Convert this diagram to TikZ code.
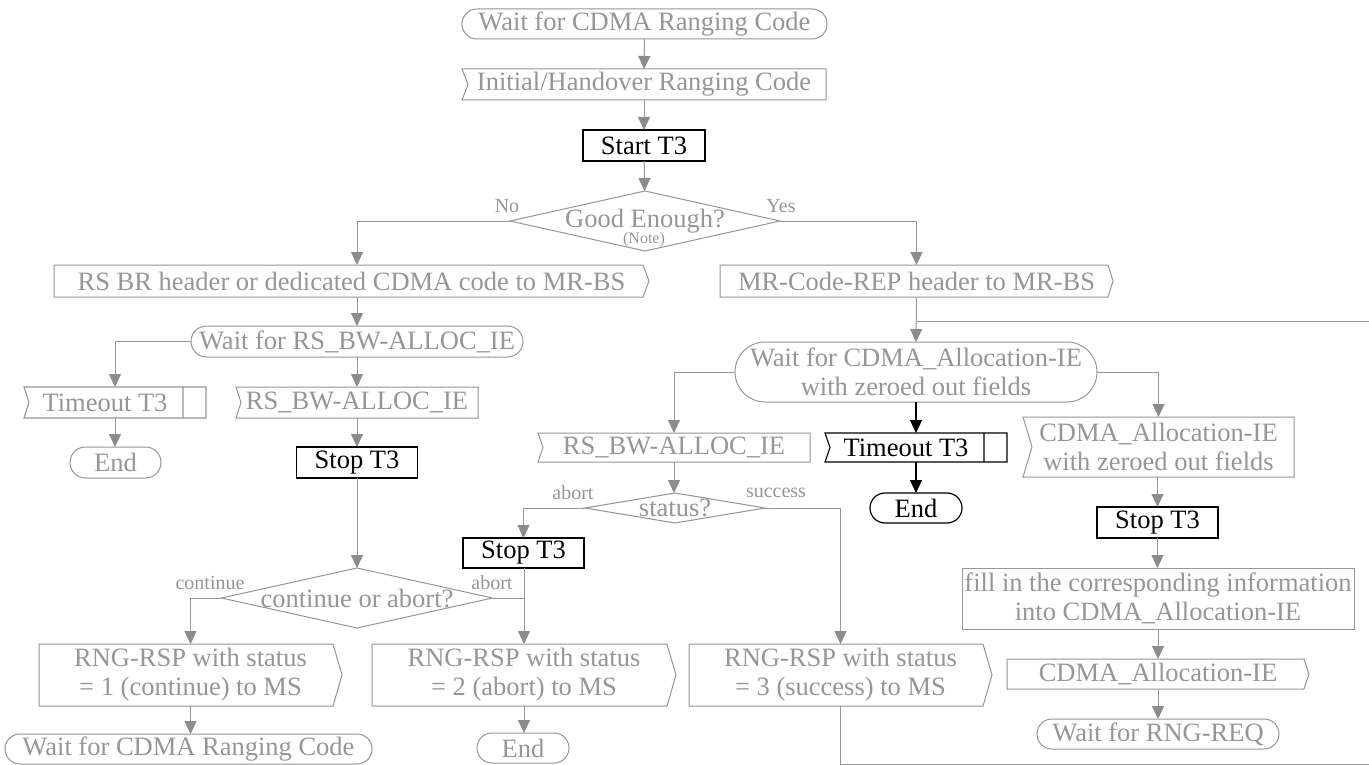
\documentclass[tikz,border=0pt]{standalone}
\usepackage{fontspec}
\setmainfont{Liberation Serif}
\usetikzlibrary{arrows.meta}
\definecolor{lc}{RGB}{150,150,150}
\definecolor{tc}{RGB}{150,150,150}
\definecolor{ac}{RGB}{140,140,140}
\newcommand{\mainf}{\fontsize{26.5}{29}\selectfont}
\newcommand{\labf}{\fontsize{20}{22}\selectfont}
\tikzset{
  sz/.style 2 args={minimum width=#1, minimum height=#2},
  base/.style={inner sep=0pt, outer sep=0pt, font=\mainf, text=tc, align=center},
  term/.style={base, draw=lc, line width=1pt, rounded corners=#1},
  term/.default=15pt,
  blkterm/.style={base, draw=black, text=black, line width=1.2pt, rounded corners=#1},
  blkterm/.default=15pt,
  proc/.style={base, draw=lc, line width=1pt},
  blk/.style={base, draw=black, text=black, line width=1.3pt},
  inbox/.style={base, append after command={\pgfextra{\draw[lc, line width=1pt]
     (\tikzlastnode.north west) -- (\tikzlastnode.north east) -- (\tikzlastnode.south east)
     -- (\tikzlastnode.south west) -- ([xshift=#1]\tikzlastnode.west) -- cycle;}}},
  inbox/.default=5pt,
  outbox/.style={base, append after command={\pgfextra{\draw[lc, line width=1pt]
     (\tikzlastnode.north west) -- ([xshift=-#1]\tikzlastnode.north east) -- (\tikzlastnode.east)
     -- ([xshift=-#1]\tikzlastnode.south east) -- (\tikzlastnode.south west) -- cycle;}}},
  outbox/.default=5pt,
  timer/.style={base, append after command={\pgfextra{\draw[#1, line width=1.1pt]
     (\tikzlastnode.north west) -- (\tikzlastnode.north east) -- (\tikzlastnode.south east)
     -- (\tikzlastnode.south west) -- ([xshift=5pt]\tikzlastnode.west) -- cycle
     ([xshift=-23pt]\tikzlastnode.north east) -- ([xshift=-23pt]\tikzlastnode.south east);}}},
  dec/.style={base, append after command={\pgfextra{\draw[lc, line width=1pt]
     (\tikzlastnode.north) -- (\tikzlastnode.east) -- (\tikzlastnode.south)
     -- (\tikzlastnode.west) -- cycle;}}},
  lab/.style={inner sep=0pt, font=\labf, text=tc},
  ln/.style={draw=lc, line width=1pt},
  arr/.style={draw=lc, line width=1pt, -{Triangle[length=13pt, width=12pt, color=ac]}},
  barr/.style={draw=black, line width=1.1pt, -{Triangle[length=13pt, width=12pt, color=black]}}
}
\begin{document}
\begin{tikzpicture}[x=1pt, y=-1pt]
\fill[white] (0,0) rectangle (1369,765);
\useasboundingbox (0,0) rectangle (1369,765);

% top column
\node[term=15pt, sz={365}{30}] (n1) at (644.5,24) {Wait for CDMA Ranging Code};
\node[inbox=6pt, sz={364}{31}] (n2) at (644,84.5) {Initial/Handover Ranging Code};
\node[blk, sz={122}{31}] (n3) at (644,145.5) {Start T3};
\node[dec, sz={270}{60}] (d1) at (645,221) {\raisebox{3pt}{Good Enough?}};
\node[inner sep=0pt, font=\fontsize{16}{16}\selectfont, text=tc] (d1n) at (644,240) {(Note)};
\node[lab] (l1) at (507,206) {No};
\node[lab] (l2) at (781,206) {Yes};

% left column
\node[outbox=6pt, sz={595}{32}] (n4) at (351.5,281) {RS BR header or dedicated CDMA code to MR-BS};
\node[term=15.5pt, sz={332}{31}] (n5) at (357,341.5) {Wait for RS\_BW-ALLOC\_IE};
\node[timer=lc, sz={182}{31}] (n6) at (115,402.5) {Timeout T3\hspace*{20pt}};
\node[term=15.5pt, sz={91}{31}] (n7) at (115.5,462.5) {End};
\node[inbox, sz={242}{31}] (n8) at (357,402.5) {RS\_BW-ALLOC\_IE};
\node[blk, sz={121}{31}] (n9) at (357,462.5) {Stop T3};
\node[dec, sz={271}{60}] (d2) at (357,598) {continue or abort?};
\node[lab] (l3) at (210,583) {continue};
\node[lab] (l4) at (492,583) {abort};
\node[outbox=9pt, sz={303}{62}] (n10) at (190.5,675) {RNG-RSP with status\\= 1 (continue) to MS};
\node[term=15pt, sz={367}{30}] (n11) at (188.5,749) {Wait for CDMA Ranging Code};
\node[outbox=9pt, sz={304}{62}] (n12) at (524,675) {RNG-RSP with status\\= 2 (abort) to MS};
\node[term=15pt, sz={92}{30}] (n13) at (523,748) {End};

% centre column
\node[outbox=5pt, sz={393}{32}] (n14) at (916.5,281) {MR-Code-REP header to MR-BS};
\node[term=30pt, sz={362}{60}] (n15) at (916,372) {Wait for CDMA\_Allocation-IE\\with zeroed out fields};
\node[inbox, sz={272}{29}] (n16) at (674,447.5) {RS\_BW-ALLOC\_IE};
\node[dec, sz={180}{30}] (d3) at (675,508) {status?};
\node[lab] (l5) at (573,493) {abort};
\node[lab] (l6) at (776,493) {success};
\node[blk, sz={121}{30}] (n17) at (523.5,553) {Stop T3};
\node[timer=black, text=black, sz={182}{29}] (n18) at (916,447.5) {Timeout T3\hspace*{20pt}};
\node[blkterm=15pt, sz={92}{30}] (n19) at (916,508) {End};
\node[outbox=9pt, sz={303}{62}] (n20) at (840.5,675) {RNG-RSP with status\\= 3 (success) to MS};

% right column
\node[inbox=9pt, sz={271}{60}] (n21) at (1158.5,447) {CDMA\_Allocation-IE\\with zeroed out fields};
\node[blk, sz={121}{31}] (n22) at (1157.5,522.5) {Stop T3};
\node[proc, sz={392}{61}] (n23) at (1158,598.5) {fill in the corresponding information\\into CDMA\_Allocation-IE};
\node[outbox=5pt, sz={302}{30}] (n24) at (1158,674) {CDMA\_Allocation-IE};
\node[term=15pt, sz={242}{30}] (n25) at (1158,734) {Wait for RNG-REQ};

\coordinate (offA) at (1369,321);
\coordinate (offB) at (1369,764);

% connectors
\draw[arr] (n1) -- (n2);
\draw[arr] (n2) -- (n3);
\draw[arr] (n3) -- (d1);
\draw[arr] (d1.west) -| (n4.north -| n5.north);
\draw[arr] (d1.east) -| (n14.north);
\draw[arr] (n4.south -| n5.north) -- (n5.north);
\draw[arr] (n5.west) -| (n6.north);
\draw[arr] (n5.south) -- (n8.north);
\draw[arr] (n6.south) -- (n7.north -| n6.south);
\draw[arr] (n8.south) -- (n9.north);
\draw[arr] (n9.south) -- (d2.north);
\draw[arr] (d2.west) -| (n10.north);
\draw[ln] (d2.east) -- (d2.east -| n12.north);
\draw[arr] (n17.south -| n12.north) -- (n12.north);
\draw[arr] (n10.south) -- (n11.north -| n10.south);
\draw[arr] (n12.south) -- (n13.north -| n12.south);
\draw[arr] (n14.south) -- (n15.north);
\draw[ln] (offA -| n14.south) -- (offA);
\draw[arr] (n15.west) -| (n16.north);
\draw[barr] (n15.south) -- (n18.north);
\draw[arr] (n15.east) -| (n21.north);
\draw[arr] (n16.south) -- (d3.north -| n16.south);
\draw[arr] (d3.west) -| (n17.north);
\draw[arr] (d3.east) -| (n20.north);
\draw[barr] (n18.south) -- (n19.north);
\draw[ln] (n20.south) |- (offB);
\draw[arr] (n21.south -| n22.north) -- (n22.north);
\draw[arr] (n22.south) -- (n23.north -| n22.south);
\draw[arr] (n23.south) -- (n24.north);
\draw[arr] (n24.south) -- (n25.north);
\end{tikzpicture}
\end{document}
